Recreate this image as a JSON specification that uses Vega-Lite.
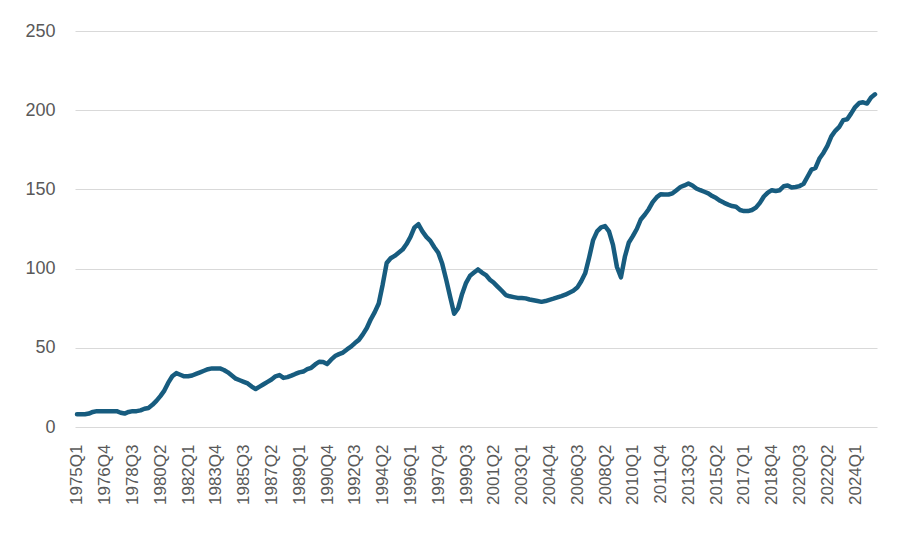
{
  "$schema": "https://vega.github.io/schema/vega-lite/v6.json",
  "autosize": {"type": "none"},
  "width": 802,
  "height": 396,
  "padding": {"left": 75, "top": 31, "right": 30, "bottom": 111},
  "background": "#ffffff",
  "config": {
    "view": {"stroke": null},
    "font": "Liberation Sans",
    "axis": {"labelFont": "Liberation Sans", "labelColor": "#595959"}
  },
  "data": {
    "values": [
      {"q": "1975Q1", "v": 8}, {"q": "1975Q2", "v": 8}, {"q": "1975Q3", "v": 8}, {"q": "1975Q4", "v": 8.5},
      {"q": "1976Q1", "v": 9.5}, {"q": "1976Q2", "v": 10}, {"q": "1976Q3", "v": 10}, {"q": "1976Q4", "v": 10},
      {"q": "1977Q1", "v": 10}, {"q": "1977Q2", "v": 10}, {"q": "1977Q3", "v": 10}, {"q": "1977Q4", "v": 9},
      {"q": "1978Q1", "v": 8.5}, {"q": "1978Q2", "v": 9.5}, {"q": "1978Q3", "v": 10}, {"q": "1978Q4", "v": 10},
      {"q": "1979Q1", "v": 10.5}, {"q": "1979Q2", "v": 11.5}, {"q": "1979Q3", "v": 12}, {"q": "1979Q4", "v": 14},
      {"q": "1980Q1", "v": 16.5}, {"q": "1980Q2", "v": 19.5}, {"q": "1980Q3", "v": 23}, {"q": "1980Q4", "v": 28},
      {"q": "1981Q1", "v": 32}, {"q": "1981Q2", "v": 34}, {"q": "1981Q3", "v": 33}, {"q": "1981Q4", "v": 32},
      {"q": "1982Q1", "v": 32}, {"q": "1982Q2", "v": 32.5}, {"q": "1982Q3", "v": 33.5}, {"q": "1982Q4", "v": 34.5},
      {"q": "1983Q1", "v": 35.5}, {"q": "1983Q2", "v": 36.5}, {"q": "1983Q3", "v": 37}, {"q": "1983Q4", "v": 37},
      {"q": "1984Q1", "v": 37}, {"q": "1984Q2", "v": 36}, {"q": "1984Q3", "v": 34.5}, {"q": "1984Q4", "v": 32.5},
      {"q": "1985Q1", "v": 30.5}, {"q": "1985Q2", "v": 29.5}, {"q": "1985Q3", "v": 28.5}, {"q": "1985Q4", "v": 27.5},
      {"q": "1986Q1", "v": 25.5}, {"q": "1986Q2", "v": 24}, {"q": "1986Q3", "v": 25.5}, {"q": "1986Q4", "v": 27},
      {"q": "1987Q1", "v": 28.5}, {"q": "1987Q2", "v": 30}, {"q": "1987Q3", "v": 32}, {"q": "1987Q4", "v": 32.8},
      {"q": "1988Q1", "v": 31}, {"q": "1988Q2", "v": 31.5}, {"q": "1988Q3", "v": 32.4}, {"q": "1988Q4", "v": 33.5},
      {"q": "1989Q1", "v": 34.5}, {"q": "1989Q2", "v": 35}, {"q": "1989Q3", "v": 36.5}, {"q": "1989Q4", "v": 37.4},
      {"q": "1990Q1", "v": 39.5}, {"q": "1990Q2", "v": 41.2}, {"q": "1990Q3", "v": 41}, {"q": "1990Q4", "v": 39.7},
      {"q": "1991Q1", "v": 42.5}, {"q": "1991Q2", "v": 44.8}, {"q": "1991Q3", "v": 46}, {"q": "1991Q4", "v": 47},
      {"q": "1992Q1", "v": 49}, {"q": "1992Q2", "v": 50.7}, {"q": "1992Q3", "v": 53}, {"q": "1992Q4", "v": 55},
      {"q": "1993Q1", "v": 58.5}, {"q": "1993Q2", "v": 62.5}, {"q": "1993Q3", "v": 68}, {"q": "1993Q4", "v": 72.5},
      {"q": "1994Q1", "v": 78}, {"q": "1994Q2", "v": 90}, {"q": "1994Q3", "v": 103.5}, {"q": "1994Q4", "v": 106.5},
      {"q": "1995Q1", "v": 108}, {"q": "1995Q2", "v": 110}, {"q": "1995Q3", "v": 112}, {"q": "1995Q4", "v": 115.5},
      {"q": "1996Q1", "v": 120}, {"q": "1996Q2", "v": 126}, {"q": "1996Q3", "v": 128}, {"q": "1996Q4", "v": 123.5},
      {"q": "1997Q1", "v": 120}, {"q": "1997Q2", "v": 117.5}, {"q": "1997Q3", "v": 113.5}, {"q": "1997Q4", "v": 110},
      {"q": "1998Q1", "v": 103}, {"q": "1998Q2", "v": 93}, {"q": "1998Q3", "v": 82}, {"q": "1998Q4", "v": 71.5},
      {"q": "1999Q1", "v": 75}, {"q": "1999Q2", "v": 84}, {"q": "1999Q3", "v": 91}, {"q": "1999Q4", "v": 95.5},
      {"q": "2000Q1", "v": 97.5}, {"q": "2000Q2", "v": 99.5}, {"q": "2000Q3", "v": 97.5}, {"q": "2000Q4", "v": 95.9},
      {"q": "2001Q1", "v": 93}, {"q": "2001Q2", "v": 91}, {"q": "2001Q3", "v": 88.5}, {"q": "2001Q4", "v": 86},
      {"q": "2002Q1", "v": 83.3}, {"q": "2002Q2", "v": 82.5}, {"q": "2002Q3", "v": 82}, {"q": "2002Q4", "v": 81.5},
      {"q": "2003Q1", "v": 81.5}, {"q": "2003Q2", "v": 81.2}, {"q": "2003Q3", "v": 80.5}, {"q": "2003Q4", "v": 80},
      {"q": "2004Q1", "v": 79.5}, {"q": "2004Q2", "v": 79}, {"q": "2004Q3", "v": 79.5}, {"q": "2004Q4", "v": 80.3},
      {"q": "2005Q1", "v": 81}, {"q": "2005Q2", "v": 81.8}, {"q": "2005Q3", "v": 82.6}, {"q": "2005Q4", "v": 83.5},
      {"q": "2006Q1", "v": 84.8}, {"q": "2006Q2", "v": 86}, {"q": "2006Q3", "v": 88}, {"q": "2006Q4", "v": 92},
      {"q": "2007Q1", "v": 97}, {"q": "2007Q2", "v": 107}, {"q": "2007Q3", "v": 118}, {"q": "2007Q4", "v": 123.5},
      {"q": "2008Q1", "v": 126}, {"q": "2008Q2", "v": 126.8}, {"q": "2008Q3", "v": 123.5}, {"q": "2008Q4", "v": 115},
      {"q": "2009Q1", "v": 101}, {"q": "2009Q2", "v": 94.5}, {"q": "2009Q3", "v": 107.5}, {"q": "2009Q4", "v": 116.5},
      {"q": "2010Q1", "v": 120.5}, {"q": "2010Q2", "v": 125}, {"q": "2010Q3", "v": 131}, {"q": "2010Q4", "v": 134},
      {"q": "2011Q1", "v": 137.5}, {"q": "2011Q2", "v": 142}, {"q": "2011Q3", "v": 145}, {"q": "2011Q4", "v": 147},
      {"q": "2012Q1", "v": 146.8}, {"q": "2012Q2", "v": 146.8}, {"q": "2012Q3", "v": 147.5}, {"q": "2012Q4", "v": 149.5},
      {"q": "2013Q1", "v": 151.5}, {"q": "2013Q2", "v": 152.5}, {"q": "2013Q3", "v": 153.7}, {"q": "2013Q4", "v": 152.5},
      {"q": "2014Q1", "v": 150.6}, {"q": "2014Q2", "v": 149.5}, {"q": "2014Q3", "v": 148.5}, {"q": "2014Q4", "v": 147.5},
      {"q": "2015Q1", "v": 145.8}, {"q": "2015Q2", "v": 144.5}, {"q": "2015Q3", "v": 142.8}, {"q": "2015Q4", "v": 141.5},
      {"q": "2016Q1", "v": 140.4}, {"q": "2016Q2", "v": 139.5}, {"q": "2016Q3", "v": 139}, {"q": "2016Q4", "v": 137},
      {"q": "2017Q1", "v": 136.3}, {"q": "2017Q2", "v": 136.3}, {"q": "2017Q3", "v": 137}, {"q": "2017Q4", "v": 138.5},
      {"q": "2018Q1", "v": 141.5}, {"q": "2018Q2", "v": 145.5}, {"q": "2018Q3", "v": 148}, {"q": "2018Q4", "v": 149.5},
      {"q": "2019Q1", "v": 149}, {"q": "2019Q2", "v": 149.5}, {"q": "2019Q3", "v": 152}, {"q": "2019Q4", "v": 152.5},
      {"q": "2020Q1", "v": 151.2}, {"q": "2020Q2", "v": 151.5}, {"q": "2020Q3", "v": 152.1}, {"q": "2020Q4", "v": 153.5},
      {"q": "2021Q1", "v": 158}, {"q": "2021Q2", "v": 162.5}, {"q": "2021Q3", "v": 163.6}, {"q": "2021Q4", "v": 169.5},
      {"q": "2022Q1", "v": 173}, {"q": "2022Q2", "v": 177.5}, {"q": "2022Q3", "v": 183.5}, {"q": "2022Q4", "v": 187},
      {"q": "2023Q1", "v": 189.5}, {"q": "2023Q2", "v": 193.7}, {"q": "2023Q3", "v": 194.3}, {"q": "2023Q4", "v": 198},
      {"q": "2024Q1", "v": 202}, {"q": "2024Q2", "v": 204.5}, {"q": "2024Q3", "v": 205}, {"q": "2024Q4", "v": 204.2},
      {"q": "2025Q1", "v": 208}, {"q": "2025Q2", "v": 210}
    ]
  },
  "mark": {
    "type": "line",
    "color": "#175c7f",
    "strokeWidth": 4.5,
    "strokeCap": "round",
    "strokeJoin": "round"
  },
  "encoding": {
    "x": {
      "field": "q",
      "type": "ordinal",
      "sort": null,
      "title": null,
      "axis": {
        "values": ["1975Q1", "1976Q4", "1978Q3", "1980Q2", "1982Q1", "1983Q4", "1985Q3", "1987Q2", "1989Q1", "1990Q4", "1992Q3", "1994Q2", "1996Q1", "1997Q4", "1999Q3", "2001Q2", "2003Q1", "2004Q4", "2006Q3", "2008Q2", "2010Q1", "2011Q4", "2013Q3", "2015Q2", "2017Q1", "2018Q4", "2020Q3", "2022Q2", "2024Q1"],
        "labelAngle": -90,
        "labelFontSize": 17,
        "labelPadding": 17,
        "ticks": false,
        "domain": false,
        "grid": false
      }
    },
    "y": {
      "field": "v",
      "type": "quantitative",
      "title": null,
      "scale": {"domain": [0, 250], "nice": false},
      "axis": {
        "values": [0, 50, 100, 150, 200, 250],
        "labelFontSize": 18,
        "labelPadding": 20,
        "ticks": false,
        "domain": false,
        "grid": true,
        "gridColor": "#d9d9d9",
        "gridWidth": 1.2
      }
    }
  }
}
